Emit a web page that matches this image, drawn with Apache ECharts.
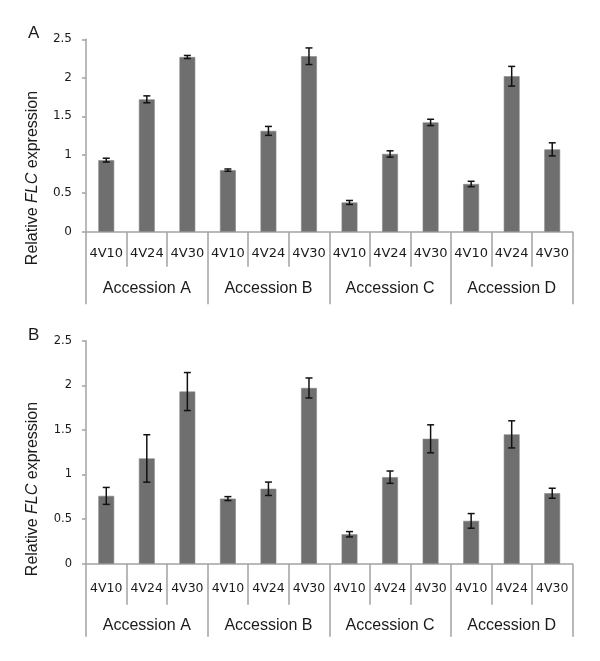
<!DOCTYPE html>
<html>
<head>
<meta charset="utf-8">
<script src="https://cdn.jsdelivr.net/npm/echarts@6/dist/echarts.min.js"></script>
<style>html,body{margin:0;padding:0;background:#fff}#c{width:600px;height:661px}</style>
</head>
<body>
<div id="c"></div>
<script>
var groups = ['Accession A', 'Accession B', 'Accession C', 'Accession D'];
var conditions = ['4V10', '4V24', '4V30'];
var yTicks = [0, 0.5, 1, 1.5, 2, 2.5];
// Panel A means and error (half-range)
var meanA = [0.93, 1.72, 2.27, 0.80, 1.31, 2.28, 0.38, 1.01, 1.42, 0.62, 2.02, 1.07];
var errA  = [0.025, 0.045, 0.02, 0.015, 0.058, 0.108, 0.026, 0.041, 0.041, 0.035, 0.128, 0.085];
// Panel B means and error (half-range)
var meanB = [0.76, 1.18, 1.93, 0.73, 0.84, 1.97, 0.33, 0.97, 1.40, 0.48, 1.45, 0.79];
var errB  = [0.095, 0.266, 0.213, 0.022, 0.075, 0.112, 0.03, 0.069, 0.157, 0.082, 0.152, 0.056];

var cats = [];
groups.forEach(function (g) { conditions.forEach(function (c) { cats.push(g + '|' + c); }); });

var AXIS = '#a3a3a3';
var TXT = '#1a1a1a';

function errData(mean, err) {
  return mean.map(function (m, i) { return [i, m - err[i], m + err[i]]; });
}
function renderErr(params, api) {
  var x = api.value(0);
  var lo = api.coord([x, api.value(1)]);
  var hi = api.coord([x, api.value(2)]);
  var hw = 3.5;
  var st = { stroke: '#111', lineWidth: 1.5 };
  return { type: 'group', children: [
    { type: 'line', shape: { x1: lo[0], y1: lo[1], x2: hi[0], y2: hi[1] }, style: st },
    { type: 'line', shape: { x1: lo[0] - hw, y1: lo[1], x2: lo[0] + hw, y2: lo[1] }, style: st },
    { type: 'line', shape: { x1: hi[0] - hw, y1: hi[1], x2: hi[0] + hw, y2: hi[1] }, style: st }
  ]};
}

var panels = [
  { top: 39.3, height: 192.4, tickLen: 35, labMargin: 15, grpLen: 72.5, grpMargin: 49, fs: 13, yfs: 12, mean: meanA, err: errA },
  { top: 340.7, height: 223, tickLen: 41, labMargin: 19, grpLen: 73, grpMargin: 54, fs: 12.5, yfs: 11.5, mean: meanB, err: errB }
];

var grid = [], xAxis = [], yAxis = [], series = [];
panels.forEach(function (p, k) {
  grid.push({ left: 86, right: 27.5, top: p.top, height: p.height });
  xAxis.push({
    type: 'category', gridIndex: k, position: 'bottom', data: cats,
    axisLine: { show: true, lineStyle: { color: AXIS, width: 1.5 } },
    axisTick: { show: true, interval: 0, length: p.tickLen, lineStyle: { color: AXIS, width: 1.5 } },
    axisLabel: { interval: 0, margin: p.labMargin, color: TXT, fontFamily: 'DejaVu Sans', fontSize: p.fs,
      formatter: function (v) { return v.split('|')[1]; } }
  });
  xAxis.push({
    type: 'category', gridIndex: k, position: 'bottom', data: groups,
    axisLine: { show: false },
    axisTick: { show: true, interval: 0, length: p.grpLen, lineStyle: { color: AXIS, width: 1.5 } },
    axisLabel: { interval: 0, margin: p.grpMargin, color: TXT, fontFamily: 'Liberation Sans', fontSize: 16 }
  });
  yAxis.push({
    type: 'value', gridIndex: k, min: 0, max: 2.5, interval: 0.5,
    splitLine: { show: false },
    axisLine: { show: true, lineStyle: { color: AXIS, width: 1.5 } },
    axisTick: { show: true, length: 4, lineStyle: { color: AXIS, width: 1.5 } },
    axisLabel: { margin: 14, color: TXT, fontFamily: 'DejaVu Sans', fontSize: p.yfs }
  });
  series.push({
    type: 'bar', xAxisIndex: k * 2, yAxisIndex: k, data: p.mean, barWidth: '39%',
    itemStyle: { color: '#6f6f6f', borderColor: '#858585', borderWidth: 0.6 }, silent: true
  });
  series.push({
    type: 'custom', xAxisIndex: k * 2, yAxisIndex: k, data: errData(p.mean, p.err),
    encode: { x: 0, y: [1, 2] }, renderItem: renderErr, silent: true, z: 5
  });
});

function yTitle(cy) {
  return {
    type: 'text', x: 33, y: cy, rotation: Math.PI / 2,
    style: {
      text: '{n|Relative }{i|FLC}{n| expression}',
      align: 'center', verticalAlign: 'middle',
      rich: {
        n: { fontFamily: 'Liberation Sans', fontSize: 16, fill: TXT },
        i: { fontFamily: 'Liberation Sans', fontSize: 16, fontStyle: 'italic', fill: TXT }
      }
    }
  };
}

var chart = echarts.init(document.getElementById('c'), null, { renderer: 'canvas' });
chart.setOption({
  animation: false,
  backgroundColor: '#fff',
  grid: grid, xAxis: xAxis, yAxis: yAxis, series: series,
  graphic: [
    { type: 'text', left: 28, top: 25, style: { text: 'A', fontFamily: 'Liberation Sans', fontSize: 17, fill: TXT } },
    { type: 'text', left: 28, top: 327, style: { text: 'B', fontFamily: 'Liberation Sans', fontSize: 17, fill: TXT } },
    yTitle(178),
    yTitle(489)
  ]
});
</script>
</body>
</html>
